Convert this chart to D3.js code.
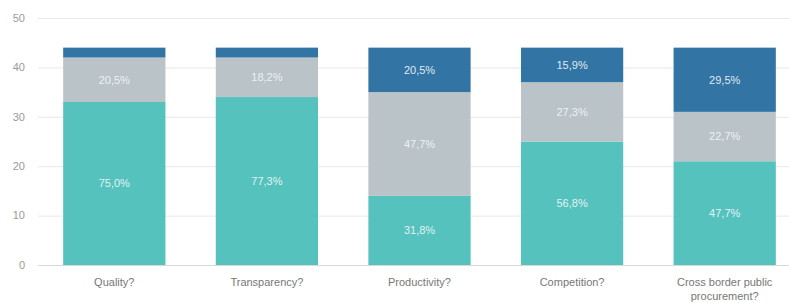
<!DOCTYPE html>
<html><head><meta charset="utf-8">
<script src="https://cdn.jsdelivr.net/npm/d3@7"></script>
<style>body{margin:0;background:#fff}svg{display:block}</style>
</head><body>
<svg id="c" width="789" height="303"></svg>
<script>
const categories = ["Quality?", "Transparency?", "Productivity?", "Competition?", "Cross border public procurement?"];
const seriesNames = ["s1", "s2", "s3"];
const bottomValues = [33, 34, 14, 25, 21];
const middleValues = [9, 8, 21, 12, 10];
const topValues = [2, 2, 9, 7, 13];
const bottomLabels = ["75,0%", "77,3%", "31,8%", "56,8%", "47,7%"];
const middleLabels = ["20,5%", "18,2%", "47,7%", "27,3%", "22,7%"];
const topLabels = ["", "", "20,5%", "15,9%", "29,5%"];
const yTicks = [0, 10, 20, 30, 40, 50];
const colors = ["#56c2be", "#bac3c8", "#3275a4"];

const svg = d3.select("#c");
const x = d3.scaleBand().domain(categories).range([38, 801]).paddingInner(0.33).paddingOuter(0.165);
const y = d3.scaleLinear().domain([0, 50]).range([265, 18]);

const rows = categories.map((c, i) => ({cat: c, s1: bottomValues[i], s2: middleValues[i], s3: topValues[i]}));
const labels = [bottomLabels, middleLabels, topLabels];
const stack = d3.stack().keys(seriesNames)(rows);

// gridlines
svg.append("g").selectAll("line").data(yTicks).join("line")
  .attr("x1", 38).attr("x2", 789)
  .attr("y1", d => y(d) + 0.5).attr("y2", d => y(d) + 0.5)
  .attr("stroke", d => d === 0 ? "#d8d8d8" : "#e8e8e8").attr("stroke-width", 1);

// y tick labels
svg.append("g").selectAll("text").data(yTicks).join("text")
  .attr("x", 25).attr("y", d => y(d)).attr("dy", "0.35em")
  .attr("text-anchor", "end")
  .attr("font-family", "Liberation Sans, Arial, sans-serif").attr("font-size", 11)
  .attr("fill", "#9a9a9a").text(d => d);

// bars
stack.forEach((layer, li) => {
  const g = svg.append("g");
  g.selectAll("rect").data(layer).join("rect")
    .attr("x", d => x(d.data.cat)).attr("width", x.bandwidth())
    .attr("y", d => y(d[1])).attr("height", d => y(d[0]) - y(d[1]))
    .attr("fill", colors[li]);
  g.selectAll("text").data(layer).join("text")
    .attr("x", d => x(d.data.cat) + x.bandwidth() / 2)
    .attr("y", d => (y(d[0]) + y(d[1])) / 2).attr("dy", "0.35em")
    .attr("text-anchor", "middle")
    .attr("font-family", "Liberation Sans, Arial, sans-serif").attr("font-size", 11)
    .attr("fill", "#f2f7f8").attr("fill-opacity", 0.92)
    .text((d, i) => labels[li][i]);
});

// x axis labels
const xl = svg.append("g").selectAll("text").data(categories).join("text")
  .attr("x", d => x(d) + x.bandwidth() / 2).attr("y", 282)
  .attr("text-anchor", "middle")
  .attr("font-family", "Liberation Sans, Arial, sans-serif").attr("font-size", 11)
  .attr("fill", "#777");
xl.each(function(d) {
  const t = d3.select(this);
  const lines = d === "Cross border public procurement?" ? ["Cross border public", "procurement?"] : [d];
  lines.forEach((l, k) => t.append("tspan").attr("x", x(d) + x.bandwidth() / 2).attr("dy", k === 0 ? "0.35em" : 14).text(l));
});
</script>
</body></html>
